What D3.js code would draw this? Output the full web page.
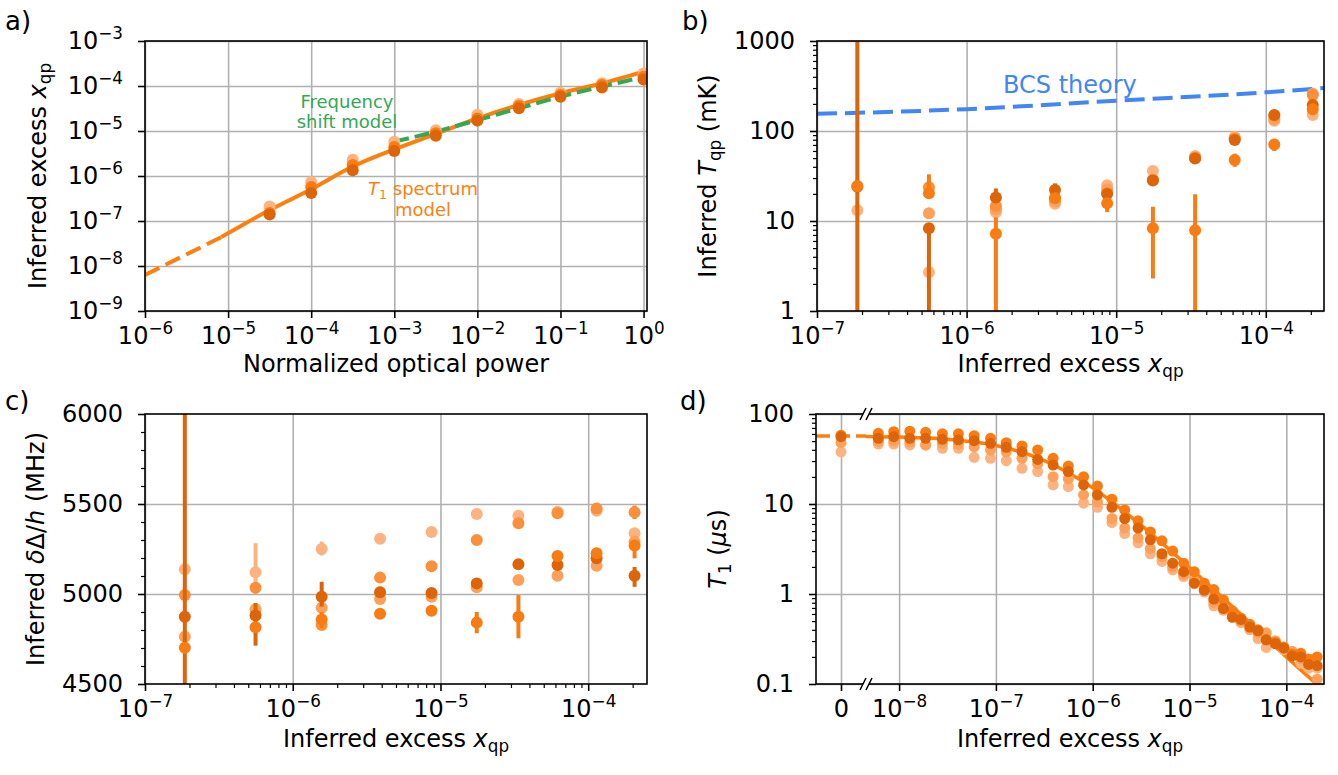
<!DOCTYPE html>
<html>
<head>
<meta charset="utf-8">
<script src="https://cdn.jsdelivr.net/npm/d3@7"></script>
<style>
  body { margin: 0; background: #fff; }
  text { font-family: "DejaVu Sans", sans-serif; }
</style>
</head>
<body>
<svg id="fig" width="1338" height="775"></svg>
<script>
// ---------- data ----------
// a) optical power sweep
const powerX = [3.16e-5, 1e-4, 3.16e-4, 1e-3, 3.16e-3, 1e-2, 3.16e-2, 1e-1, 3.16e-1, 1];
const aLight = [2.1e-7, 7.4e-7, 2.3e-6, 5.8e-6, 1.04e-5, 2.3e-5, 4.0e-5, 7.1e-5, 1.15e-4, 1.9e-4];
const aMid   = [1.5e-7, 5.7e-7, 1.75e-6, 4.4e-6, 8.9e-6, 1.9e-5, 3.6e-5, 6.3e-5, 1.05e-4, 1.6e-4];
const aDark  = [1.4e-7, 4.2e-7, 1.35e-6, 3.6e-6, 7.8e-6, 1.7e-5, 3.2e-5, 5.8e-5, 9.3e-5, 1.4e-4];
const t1DashX = [1e-6, 8.3e-6];
const t1DashY = [6.3e-9, 4.4e-8];
const t1SolidX = [8.3e-6, 3.16e-5, 1e-4, 3.16e-4, 1e-3, 3.16e-3, 1e-2, 3.16e-2, 1e-1, 3.16e-1, 1.1];
const t1SolidY = [4.4e-8, 1.75e-7, 5.06e-7, 1.62e-6, 3.9e-6, 8.6e-6, 1.9e-5, 3.8e-5, 6.9e-5, 1.15e-4, 2.2e-4];
const freqX = [1e-3, 3.16e-3, 1e-2, 3.16e-2, 1e-1, 3.16e-1, 1.1];
const freqY = [5.8e-6, 9.7e-6, 1.75e-5, 3.2e-5, 5.8e-5, 9.7e-5, 1.65e-4];

// b) and c) share the x_qp columns
const xqpCols = [1.86e-7, 5.6e-7, 1.57e-6, 3.9e-6, 8.7e-6, 1.76e-5, 3.37e-5, 6.2e-5, 1.14e-4, 2.06e-4];
const bPeach  = [13.2, 2.7, 12.5, 15.5, 24.9, 36, 52.7, 86, 130, 150.6];
const bLight  = [null, 12.2, 13.5, 16.5, 22.5, 28.8, 51, 83, 135, 260];
const bMid    = [null, 23.7, 14.7, 18, 20.5, 28.5, 50, 82, 148, 251];
const bDark   = [24, 8.3, 18.2, 22.1, 20, 28.1, 49.6, 79.4, 150.6, 194.5];
const bBright = [24.5, 20.3, 7.2, 17.9, 15.7, 8.3, 7.9, 47.6, 71, 174];
const bDarkErr   = [[0.5, 5000], [0.5, 8.3], [18.2, 23], [17.9, 26.2], null, null, null, null, null, null];
const bBrightErr = [null, [20, 33], [0.5, 11], null, [12.6, 18], [2.3, 14.4], [0.5, 19.8], [40, 56], [60, 80], null];
const bcsX = [1e-7, 1e-6, 1e-5, 1e-4, 2.45e-4];
const bcsY = [155, 175, 217, 269, 300];

const cPeach  = [5137, 5121, 5250, 5307, 5344, 5444, 5435, 5457, 5463, 5337];
const cLight  = [4763, 4915, 4924, 4972, 4985, 5037, 5078, 5102, 5157, 5291];
const cMid    = [4994, 5035, 4828, 5091, 5154, 5300, 5393, 5448, 5475, 5454];
const cDark   = [4874, 4880, 4985, 5010, 5006, 5059, 5165, 5161, 5198, 5102];
const cBright = [4702, 4815, 4859, 4890, 4907, 4841, 4874, 5211, 5226, 5269];
const cPeachErr  = [null, [5000, 5282], [5214, 5291], [5286, 5327], null, null, null, null, null, null];
const cMidErr    = [null, null, null, null, null, null, null, null, null, [5417, 5491]];
const cDarkErr   = [[4000, 7000], [4713, 4950], [4930, 5068], [4990, 5040], null, null, null, null, null, [5040, 5150]];
const cBrightErr = [null, null, [4810, 4900], null, null, [4782, 4900], [4754, 4994], null, null, [5198, 5300]];

// d) T1 vs x_qp
const dX = [6.1e-9, 8.8e-9, 1.29e-8, 1.88e-8, 2.8e-8, 4.1e-8, 5.96e-8, 8.8e-8, 1.28e-7, 1.86e-7,
            2.7e-7, 3.9e-7, 5.6e-7, 8.05e-7, 1.12e-6, 1.58e-6, 2.14e-6, 2.94e-6, 3.94e-6, 5.19e-6,
            6.7e-6, 8.7e-6, 1.12e-5, 1.42e-5, 1.78e-5, 2.24e-5, 2.77e-5, 3.4e-5, 4.2e-5, 5.1e-5,
            6.2e-5, 7.7e-5, 9.4e-5, 1.15e-4, 1.41e-4, 1.7e-4, 2.08e-4];
const dPeach  = [46.4, 46.4, 45.3, 45, 41.6, 41.6, 33.0, 32.2, 30.3, 24.9, 22.9, 16.3, 15.6, 10.2, 9.2, 6.2, 4.7, 3.7, 2.8, 2.3,
                 1.85, 1.56, 1.3, 1.05, 0.74, 0.66, 0.58, 0.48, 0.40, 0.32, 0.255, 0.3, 0.24, 0.23, 0.17, 0.15, 0.15];
const dLight  = [49.5, 50, 49, 45.3, 47, 46, 43.3, 39.8, 38, 32.2, 28, 20.1, 19, 12.6, 10.5, 6.9, 5.4, 4.2, 3.2, 2.6,
                 2.0, 1.65, 1.4, 1.17, 0.8, 0.7, 0.6, 0.5, 0.42, 0.37, 0.37, 0.3, 0.26, 0.23, 0.19, 0.17, 0.113];
const dBright = [61, 63.7, 64.5, 62.6, 60.3, 60.3, 57.4, 53.7, 48, 44.1, 39.8, 32.2, 26.4, 20.1, 15.8, 11.3, 8.6, 6.5, 4.9, 3.9,
                 3.0, 2.2, 1.77, 1.32, 1.12, 0.86, 0.65, 0.54, 0.46, 0.40, 0.31, 0.29, 0.255, 0.215, 0.22, 0.19, 0.2];
const dDark   = [53.7, 56, 53.7, 53.7, 52.4, 51.6, 50.6, 47.2, 42.6, 38.1, 31.3, 27.1, 22.9, 16.3, 12.6, 9.2, 6.9, 5.4, 4.0, 2.8,
                 2.2, 1.77, 1.32, 1.1, 0.88, 0.69, 0.55, 0.52, 0.43, 0.39, 0.31, 0.28, 0.25, 0.205, 0.2, 0.165, 0.16];
const dZero = {peach: 38, light: 48, bright: 58, dark: 56};
const dModelX = [4.55e-9, 1e-8, 3e-8, 1e-7, 3e-7, 1e-6, 3e-6, 1e-5, 3e-5, 1e-4, 2.05e-4];
const dModelY = [56.3, 55.4, 52.6, 44.6, 31.1, 15.1, 6.1, 1.97, 0.67, 0.2, 0.1];
const dZeroModel = 57;

// ---------- style ----------
const colPeach = "#fdb380", colLight = "#fca05a", colMid = "#fb8f3a", colBright = "#f97c12", colDark = "#dd6408";
const orange = "#ff7f0e", green = "#34a853", blue = "#4285f4", gridCol = "#b0b0b0";
const TICK_FS = 24, LABEL_FS = 24;

const svg = d3.select("#fig");
const defs = svg.append("defs");

const PA = {l: 145, r: 647, t: 41, b: 311};
const PB = {l: 817, r: 1324, t: 41, b: 311};
const PC = {l: 145, r: 647, t: 414, b: 684};
const PD = {l: 816, r: 1324, t: 414, b: 684, brk: 866};

const xa = d3.scaleLog().domain([1e-6, 1.1]).range([PA.l, PA.r]);
const ya = d3.scaleLog().domain([1e-9, 1e-3]).range([PA.b, PA.t]);
const xb = d3.scaleLog().domain([1e-7, 2.45e-4]).range([PB.l, PB.r]);
const yb = d3.scaleLog().domain([1, 1000]).range([PB.b, PB.t]);
const xc = d3.scaleLog().domain([1e-7, 2.5e-4]).range([PC.l, PC.r]);
const yc = d3.scaleLinear().domain([4500, 6000]).range([PC.b, PC.t]);
const xd0 = d3.scaleLinear().domain([-1, 1]).range([PD.l, PD.brk]);
const xd = d3.scaleLog().domain([4.55e-9, 2.45e-4]).range([PD.brk, PD.r]);
const yd = d3.scaleLog().domain([0.1, 100]).range([PD.b, PD.t]);

// ---------- helpers ----------
function clip(id, p) {
  defs.append("clipPath").attr("id", id).append("rect")
    .attr("x", p.l).attr("y", p.t).attr("width", p.r - p.l).attr("height", p.b - p.t);
  return svg.append("g").attr("clip-path", "url(#" + id + ")");
}

function decades(lo, hi) {
  const out = [];
  for (let e = lo; e <= hi; e++) out.push(Math.pow(10, e));
  return out;
}

function logMinors(scale) {
  const [a, b] = scale.domain();
  const out = [];
  for (let e = Math.floor(Math.log10(a)); e <= Math.ceil(Math.log10(b)); e++) {
    for (let m = 2; m <= 9; m++) {
      const v = m * Math.pow(10, e);
      if (v >= a && v <= b) out.push(v);
    }
  }
  return out;
}

function gridX(scale, vals, p) {
  svg.append("g").attr("transform", `translate(0,${p.b})`)
    .call(d3.axisBottom(scale).tickValues(vals).tickSize(-(p.b - p.t)).tickFormat(""))
    .call(g => { g.select(".domain").remove(); g.selectAll("line").attr("stroke", gridCol).attr("stroke-width", 1.6); });
}
function gridY(scale, vals, p) {
  svg.append("g").attr("transform", `translate(${p.l},0)`)
    .call(d3.axisLeft(scale).tickValues(vals).tickSize(-(p.r - p.l)).tickFormat(""))
    .call(g => { g.select(".domain").remove(); g.selectAll("line").attr("stroke", gridCol).attr("stroke-width", 1.6); });
}

function styleAxis(g, w) {
  g.attr("font-size", TICK_FS).attr("font-family", '"DejaVu Sans", sans-serif');
  g.select(".domain").remove();
  g.selectAll(".tick line").attr("stroke", "#000").attr("stroke-width", w);
  g.selectAll(".tick text").attr("fill", "#000");
}

function powLabel(g) {
  g.selectAll(".tick text").each(function (d) {
    const t = d3.select(this);
    const e = Math.round(Math.log10(d));
    t.text(null);
    t.append("tspan").text("10");
    t.append("tspan").attr("dy", -0.42 * TICK_FS).attr("font-size", TICK_FS * 0.7)
      .text(e < 0 ? "\u2212" + (-e) : String(e));
  });
}

function bottomAxis(scale, vals, p, pow, minors) {
  const g = svg.append("g").attr("transform", `translate(0,${p.b})`)
    .call(d3.axisBottom(scale).tickValues(vals).tickSize(7).tickPadding(9)
      .tickFormat(pow ? null : d => d));
  styleAxis(g, 1.6);
  if (pow) powLabel(g);
  if (minors) {
    const m = svg.append("g").attr("transform", `translate(0,${p.b})`)
      .call(d3.axisBottom(scale).tickValues(minors).tickSize(4).tickFormat(""));
    styleAxis(m, 1.2);
  }
  return g;
}

function leftAxis(scale, vals, p, fmt, minors) {
  const g = svg.append("g").attr("transform", `translate(${p.l},0)`)
    .call(d3.axisLeft(scale).tickValues(vals).tickSize(7).tickPadding(15)
      .tickFormat(fmt === "pow" ? null : fmt));
  styleAxis(g, 1.6);
  if (fmt === "pow") powLabel(g);
  if (minors) {
    const m = svg.append("g").attr("transform", `translate(${p.l},0)`)
      .call(d3.axisLeft(scale).tickValues(minors).tickSize(4).tickFormat(""));
    styleAxis(m, 1.2);
  }
  return g;
}

function spines(p) {
  svg.append("rect").attr("x", p.l).attr("y", p.t).attr("width", p.r - p.l).attr("height", p.b - p.t)
    .attr("fill", "none").attr("stroke", "#000").attr("stroke-width", 1.6);
}

function rich(sel, parts, fs) {
  let shift = 0;
  parts.forEach(q => {
    const ts = sel.append("tspan").text(q.t);
    const target = q.sub ? fs * 0.22 : 0;
    if (target !== shift) { ts.attr("dy", target - shift); shift = target; }
    if (q.sub) ts.attr("font-size", fs * 0.7);
    if (q.i) ts.attr("font-style", "italic");
  });
}

function xLabel(x, y, parts) {
  const t = svg.append("text").attr("x", x).attr("y", y).attr("text-anchor", "middle")
    .attr("font-size", LABEL_FS).attr("fill", "#000");
  rich(t, parts, LABEL_FS);
}
function yLabel(x, y, parts) {
  const t = svg.append("text").attr("transform", `translate(${x},${y}) rotate(-90)`)
    .attr("text-anchor", "middle").attr("font-size", LABEL_FS).attr("fill", "#000");
  rich(t, parts, LABEL_FS);
}

function dots(g, xs, ys, xScale, yScale, col, r) {
  g.append("g").selectAll("circle")
    .data(d3.zip(xs, ys).filter(d => d[1] !== null))
    .join("circle")
    .attr("cx", d => xScale(d[0])).attr("cy", d => yScale(d[1]))
    .attr("r", r).attr("fill", col);
}
function errs(g, xs, es, xScale, yScale, col) {
  g.append("g").selectAll("line")
    .data(d3.zip(xs, es).filter(d => d[1] !== null))
    .join("line")
    .attr("x1", d => xScale(d[0])).attr("x2", d => xScale(d[0]))
    .attr("y1", d => yScale(d[1][0])).attr("y2", d => yScale(d[1][1]))
    .attr("stroke", col).attr("stroke-width", 4);
}
function curve(g, xs, ys, xScale, yScale, col, w, dash) {
  const line = d3.line().x(d => xScale(d[0])).y(d => yScale(d[1])).curve(d3.curveMonotoneX);
  g.append("path").datum(d3.zip(xs, ys)).attr("d", line)
    .attr("fill", "none").attr("stroke", col).attr("stroke-width", w)
    .attr("stroke-dasharray", dash || null);
}

const xqpLabel = [{t: "Inferred excess "}, {t: "x", i: true}, {t: "qp", sub: true}];

// ---------- panel a ----------
gridX(xa, decades(-6, 0), PA);
gridY(ya, decades(-9, -3), PA);
const ga = clip("clipA", PA);
curve(ga, t1DashX, t1DashY, xa, ya, orange, 4, "16,7");
curve(ga, t1SolidX, t1SolidY, xa, ya, orange, 4);
curve(ga, freqX, freqY, xa, ya, green, 4, "15,6");
dots(ga, powerX, aLight, xa, ya, colPeach, 6);
dots(ga, powerX, aMid, xa, ya, colBright, 6);
dots(ga, powerX, aDark, xa, ya, colDark, 6);
spines(PA);
bottomAxis(xa, decades(-6, 0), PA, true);
leftAxis(ya, decades(-9, -3), PA, "pow");
xLabel((PA.l + PA.r) / 2, 372, [{t: "Normalized optical power"}]);
yLabel(46, (PA.t + PA.b) / 2, xqpLabel);

const fText = svg.append("text").attr("font-size", 18).attr("fill", green).attr("text-anchor", "middle");
fText.append("tspan").attr("x", 347).attr("y", 107.5).text("Frequency");
fText.append("tspan").attr("x", 347).attr("y", 128).text("shift model");
const tText = svg.append("text").attr("font-size", 18).attr("fill", orange).attr("text-anchor", "middle");
const tl1 = tText.append("tspan").attr("x", 423).attr("y", 195);
tl1.append("tspan").attr("font-style", "italic").text("T");
tl1.append("tspan").attr("font-size", 12.6).attr("dy", 4).text("1");
tl1.append("tspan").attr("dy", -4).text(" spectrum");
tText.append("tspan").attr("x", 423).attr("y", 216).text("model");

// ---------- panel b ----------
gridX(xb, decades(-7, -4), PB);
gridY(yb, decades(0, 3), PB);
const gb = clip("clipB", PB);
curve(gb, bcsX, bcsY, xb, yb, blue, 4, "20,8");
dots(gb, xqpCols, bPeach, xb, yb, colPeach, 6);
dots(gb, xqpCols, bLight, xb, yb, colLight, 6);
dots(gb, xqpCols, bMid, xb, yb, colMid, 6);
errs(gb, xqpCols, bDarkErr, xb, yb, colDark);
dots(gb, xqpCols, bDark, xb, yb, colDark, 6);
errs(gb, xqpCols, bBrightErr, xb, yb, colBright);
dots(gb, xqpCols, bBright, xb, yb, colBright, 6);
spines(PB);
bottomAxis(xb, decades(-7, -4), PB, true, logMinors(xb));
leftAxis(yb, decades(0, 3), PB, d => d3.format("d")(d), logMinors(yb));
xLabel((PB.l + PB.r) / 2, 372, xqpLabel);
yLabel(716, (PB.t + PB.b) / 2, [{t: "Inferred "}, {t: "T", i: true}, {t: "qp", sub: true}, {t: " (mK)"}]);
svg.append("text").attr("x", 1003).attr("y", 93).attr("font-size", 24).attr("fill", blue).text("BCS theory");

// ---------- panel c ----------
gridX(xc, decades(-7, -4), PC);
gridY(yc, [5000, 5500], PC);
const gc = clip("clipC", PC);
errs(gc, xqpCols, cPeachErr, xc, yc, colPeach);
dots(gc, xqpCols, cPeach, xc, yc, colPeach, 6);
dots(gc, xqpCols, cLight, xc, yc, colLight, 6);
errs(gc, xqpCols, cMidErr, xc, yc, colBright);
dots(gc, xqpCols, cMid, xc, yc, colMid, 6);
errs(gc, xqpCols, cDarkErr, xc, yc, colDark);
dots(gc, xqpCols, cDark, xc, yc, colDark, 6);
errs(gc, xqpCols, cBrightErr, xc, yc, colBright);
dots(gc, xqpCols, cBright, xc, yc, colBright, 6);
spines(PC);
bottomAxis(xc, decades(-7, -4), PC, true, logMinors(xc));
leftAxis(yc, [4500, 5000, 5500, 6000], PC, d => d, d3.range(4600, 6000, 100).filter(v => v % 500 !== 0));
xLabel((PC.l + PC.r) / 2, 747, xqpLabel);
yLabel(44, (PC.t + PC.b) / 2, [{t: "Inferred "}, {t: "\u03b4", i: true}, {t: "\u0394/"}, {t: "h", i: true}, {t: " (MHz)"}]);

// ---------- panel d ----------
gridX(xd0, [0], PD);
gridX(xd, decades(-8, -4), PD);
gridY(yd, decades(-1, 2), PD);
const gd = clip("clipD", PD);
gd.append("line")
  .attr("x1", xd0(-1)).attr("x2", xd0(1)).attr("y1", yd(dZeroModel)).attr("y2", yd(dZeroModel))
  .attr("stroke", orange).attr("stroke-width", 3.5).attr("stroke-dasharray", "14,6");
curve(gd, dModelX, dModelY, xd, yd, orange, 3.5);
const zeroVals = [["peach", colPeach], ["light", colLight], ["bright", colBright], ["dark", colDark]];
zeroVals.forEach(([k, c]) => dots(gd, [0], [dZero[k]], xd0, yd, c, 5.5));
dots(gd, dX, dPeach, xd, yd, colPeach, 5.5);
dots(gd, dX, dLight, xd, yd, colLight, 5.5);
dots(gd, dX, dBright, xd, yd, colBright, 5.5);
dots(gd, dX, dDark, xd, yd, colDark, 5.5);
spines(PD);
// axis break marks
[PD.t, PD.b].forEach(y => {
  svg.append("rect").attr("x", PD.brk - 3).attr("y", y - 2).attr("width", 6).attr("height", 4).attr("fill", "#fff");
  [-3, 3].forEach(dx => svg.append("line")
    .attr("x1", PD.brk + dx - 3).attr("y1", y + 6).attr("x2", PD.brk + dx + 3).attr("y2", y - 6)
    .attr("stroke", "#000").attr("stroke-width", 1.6));
});
const d0ax = svg.append("g").attr("transform", `translate(0,${PD.b})`)
  .call(d3.axisBottom(xd0).tickValues([0]).tickSize(7).tickPadding(9).tickFormat(d => d));
styleAxis(d0ax, 1.6);
bottomAxis(xd, decades(-8, -4), PD, true);
leftAxis(yd, decades(-1, 2), PD, d => (d < 1 ? "0.1" : d3.format("d")(d)), logMinors(yd));
xLabel((PD.l + PD.r) / 2, 747, xqpLabel);
yLabel(726, (PD.t + PD.b) / 2, [{t: "T", i: true}, {t: "1", sub: true}, {t: " ("}, {t: "\u03bc", i: true}, {t: "s)"}]);

// panel letters
[["a)", 5, 30], ["b)", 682, 30], ["c)", 5, 410], ["d)", 680, 410]].forEach(([s, x, y]) =>
  svg.append("text").attr("x", x).attr("y", y).attr("font-size", 26).attr("fill", "#000").text(s));
</script>
</body>
</html>
